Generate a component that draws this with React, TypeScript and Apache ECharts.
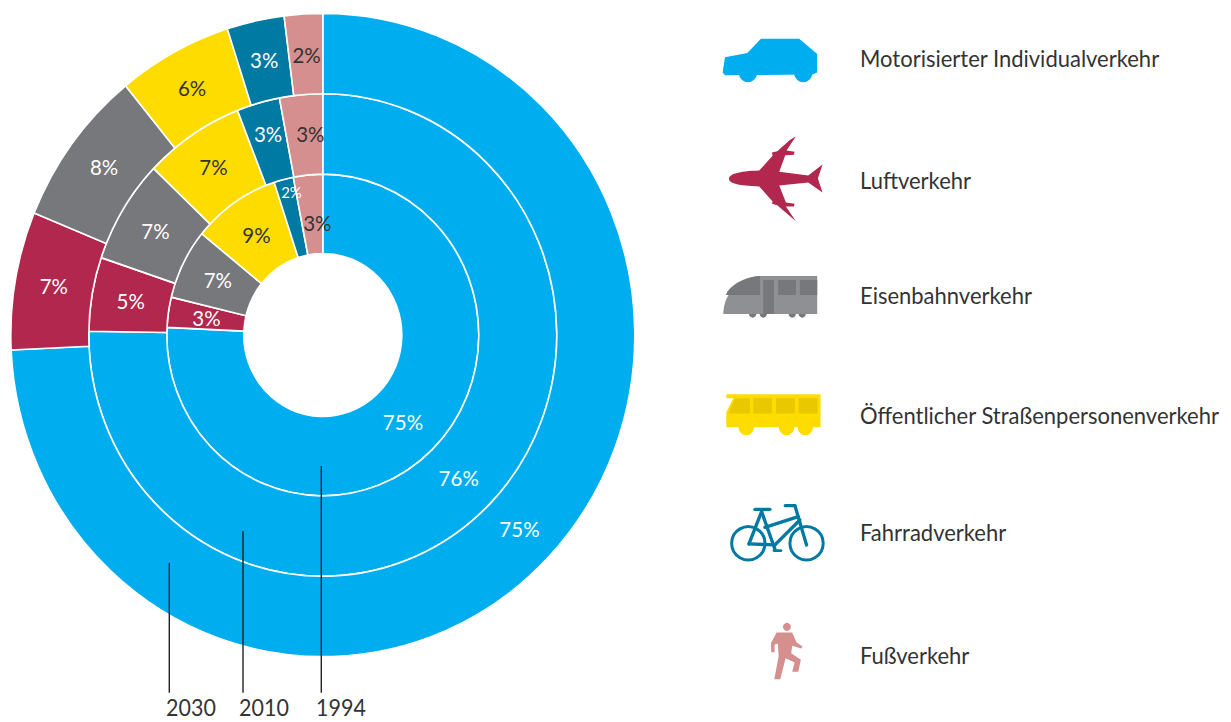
import React, { useEffect, useRef } from "react";
import * as echarts from "echarts";

const categories = [
  "Motorisierter Individualverkehr",
  "Luftverkehr",
  "Eisenbahnverkehr",
  "Öffentlicher Straßenpersonenverkehr",
  "Fahrradverkehr",
  "Fußverkehr",
];
const years = ["1994", "2010", "2030"];
const values1994 = [75, 3, 7, 9, 2, 3];
const values2010 = [76, 5, 7, 7, 3, 3];
const values2030 = [75, 7, 8, 6, 3, 2];

const colors = ["#00aeef", "#b2274d", "#77787b", "#ffdc00", "#0079a3", "#d68f8f"];
const labelColors = ["#ffffff", "#ffffff", "#ffffff", "#333333", "#ffffff", "#333333"];

// The whole drawing is stretched vertically in the reference.
const S = 1.031;
const Y = (y: number) => y / S;
const FONT = "Lato";
const CX = 322.8;
const CY = 335;

echarts.graphic.registerShape(
  "planeIcon",
  echarts.graphic.extendPath(
    "M87,477 C87,463 115,454 178,452 L218,408 L216,398 L232,394 L270,360 L288,349 L260,392 L284,396 L282,405 L256,406 L238,456 L325,467 L368,434 L354,476 L368,518 L325,488 L238,497 L258,548 L284,552 L282,560 L258,560 L288,604 L232,556 L216,552 L218,545 L178,500 C115,498 87,491 87,477 Z",
    {}
  )
);
echarts.graphic.registerShape(
  "trainIcon",
  echarts.graphic.extendPath("M70,192 C70,130 120,80 180,78 L352,78 L352,192 Z", {})
);
echarts.graphic.registerShape(
  "trainFront",
  echarts.graphic.extendPath("M77,135 C90,105 130,82 180,78 L180,135 Z", {})
);

const zoomGroup = (ox: number, oy: number, children: any[]) => ({
  type: "group",
  x: ox,
  y: Y(oy),
  scaleX: 1 / 3,
  scaleY: 1 / (3 * S),
  children,
});
const poly = (points: number[][], fill: string) => ({ type: "polygon", shape: { points }, style: { fill } });
const disc = (cx: number, cy: number, r: number, fill: string) => ({ type: "circle", shape: { cx, cy, r }, style: { fill } });
const box = (x: number, y: number, width: number, height: number, fill: string) => ({ type: "rect", shape: { x, y, width, height }, style: { fill } });
const seg = (x1: number, y1: number, x2: number, y2: number, stroke: string, lineWidth = 10) => ({
  type: "line",
  shape: { x1, y1, x2, y2 },
  style: { stroke, lineWidth, lineCap: "round" },
});

const carIcon = zoomGroup(700, 20, [
  poly([[75,112],[142,99],[183,56],[298,56],[352,102],[352,158],[338,164],[75,166],[68,158]], colors[0]),
  disc(144, 160, 27, colors[0]),
  disc(310, 160, 27, colors[0]),
]);
const planeIcon = zoomGroup(700, 20, [{ type: "planeIcon", style: { fill: colors[1] } }]);
const trainIcon = zoomGroup(700, 250, [
  disc(158, 192, 11, "#77787b"),
  disc(190, 192, 11, "#77787b"),
  disc(277, 192, 11, "#77787b"),
  disc(307, 192, 11, "#77787b"),
  { type: "trainIcon", style: { fill: "#8f9093" } },
  { type: "trainFront", style: { fill: "#77787b" } },
  box(190, 90, 32, 102, "#77787b"),
  box(235, 90, 53, 45, "#77787b"),
  box(300, 90, 52, 45, "#77787b"),
]);
const busIcon = zoomGroup(700, 250, [
  disc(139, 533, 23, colors[3]),
  disc(260, 533, 23, colors[3]),
  disc(316, 533, 23, colors[3]),
  poly([[79,433],[362,433],[362,532],[79,532],[79,487],[100,445],[79,445]], colors[3]),
  poly([[105,445],[150,445],[150,491],[85,491]], "#eac800"),
  box(160, 445, 56, 46, "#eac800"),
  box(228, 445, 57, 46, "#eac800"),
  box(296, 445, 57, 46, "#eac800"),
]);
const bikeIcon = zoomGroup(700, 490, [
  { type: "circle", shape: { cx: 145, cy: 160, r: 50 }, style: { fill: "none", stroke: colors[4], lineWidth: 9 } },
  { type: "circle", shape: { cx: 320, cy: 160, r: 50 }, style: { fill: "none", stroke: colors[4], lineWidth: 9 } },
  seg(147, 162, 185, 65, colors[4]),
  seg(147, 162, 225, 165, colors[4]),
  seg(185, 65, 225, 178, colors[4]),
  seg(195, 112, 295, 80, colors[4]),
  seg(225, 165, 300, 90, colors[4]),
  seg(285, 47, 320, 165, colors[4]),
  seg(256, 47, 285, 47, colors[4]),
  seg(165, 58, 210, 58, colors[4]),
  seg(222, 182, 243, 182, colors[4], 8),
]);
const walkerIcon = zoomGroup(700, 490, [
  disc(261, 411, 12, colors[5]),
  poly([[230,428],[277,428],[290,458],[308,470],[304,476],[284,470],[277,468],[274,490],[303,510],[295,546],[277,546],[284,518],[257,505],[241,568],[223,568],[236,500],[234,462],[224,464],[224,487],[214,487],[213,460]], colors[5]),
]);

const legendY = [58, 180, 295, 415, 532, 655];
const leaderX = [321.3, 243, 169.3];
const leaderTop = [466, 531, 563];
const yearLabelX = [341, 264, 191];

const pieSeries = (name: string, values: number[], radius: number[], tweak: { dx: number; dy: number; size?: number }[]) => ({
  type: "pie",
  name,
  center: [CX, Y(CY)],
  radius,
  startAngle: 90,
  clockwise: true,
  silent: true,
  minShowLabelAngle: 0,
  avoidLabelOverlap: false,
  itemStyle: { borderColor: "#fff", borderWidth: 1.6 },
  labelLine: { show: false },
  data: values.map((value, i) => ({
    name: categories[i],
    value,
    itemStyle: { color: colors[i] },
    label: {
      show: true,
      position: "inside",
      formatter: "{c}%",
      color: labelColors[i],
      fontFamily: FONT,
      fontSize: tweak[i].size ?? 20.5,
      fontWeight: 400,
    },
  })),
  labelLayout: (p: any) => {
    const t = tweak[p.dataIndex];
    return { dx: t.dx, dy: t.dy };
  },
});

export default function App() {
  const ref = useRef<HTMLDivElement>(null);
  useEffect(() => {
    const chart = echarts.init(ref.current!, null, { renderer: "svg" });
    chart.setOption({
      animation: false,
      backgroundColor: "#fff",
      series: [
        pieSeries(years[0], values1994, [79, 156], [
          { dx: -3, dy: -3 },
          { dx: 3, dy: 0 },
          { dx: 3, dy: 0 },
          { dx: 2, dy: 2 },
          { dx: -1, dy: -22, size: 15 },
          { dx: 6, dy: 11 },
        ]),
        pieSeries(years[1], values2010, [156, 234], [
          { dx: -3, dy: -3 },
          { dx: 3, dy: 0 },
          { dx: 2, dy: 1 },
          { dx: 1, dy: 1 },
          { dx: 0, dy: -5 },
          { dx: 6, dy: 2 },
        ]),
        pieSeries(years[2], values2030, [234, 312], [
          { dx: -3, dy: -3 },
          { dx: 3, dy: -1 },
          { dx: 3, dy: 1 },
          { dx: 1, dy: 2 },
          { dx: 1, dy: 2 },
          { dx: 1, dy: 3 },
        ]),
      ],
      graphic: {
        elements: [
          carIcon,
          planeIcon,
          trainIcon,
          busIcon,
          bikeIcon,
          walkerIcon,
          ...categories.map((text, i) => ({
            type: "text",
            x: 860,
            y: Y(legendY[i]),
            style: { text, fill: "#333333", font: `400 22px ${FONT}`, verticalAlign: "middle" },
          })),
          ...years.map((text, i) => ({
            type: "line",
            z: 50,
            shape: { x1: leaderX[i], y1: Y(leaderTop[i]), x2: leaderX[i], y2: Y(692.7) },
            style: { stroke: "#222222", lineWidth: 1.4 },
          })),
          ...years.map((text, i) => ({
            type: "text",
            x: yearLabelX[i],
            y: Y(707.5),
            style: { text, fill: "#333333", font: `400 21.5px ${FONT}`, align: "center", verticalAlign: "middle" },
          })),
        ],
      },
    });
    return () => chart.dispose();
  }, []);
  return (
    <div
      ref={ref}
      style={{
        position: "fixed",
        left: 0,
        top: 0,
        width: 1231,
        height: 700,
        transform: `scaleY(${S})`,
        transformOrigin: "0 0",
      }}
    />
  );
}
